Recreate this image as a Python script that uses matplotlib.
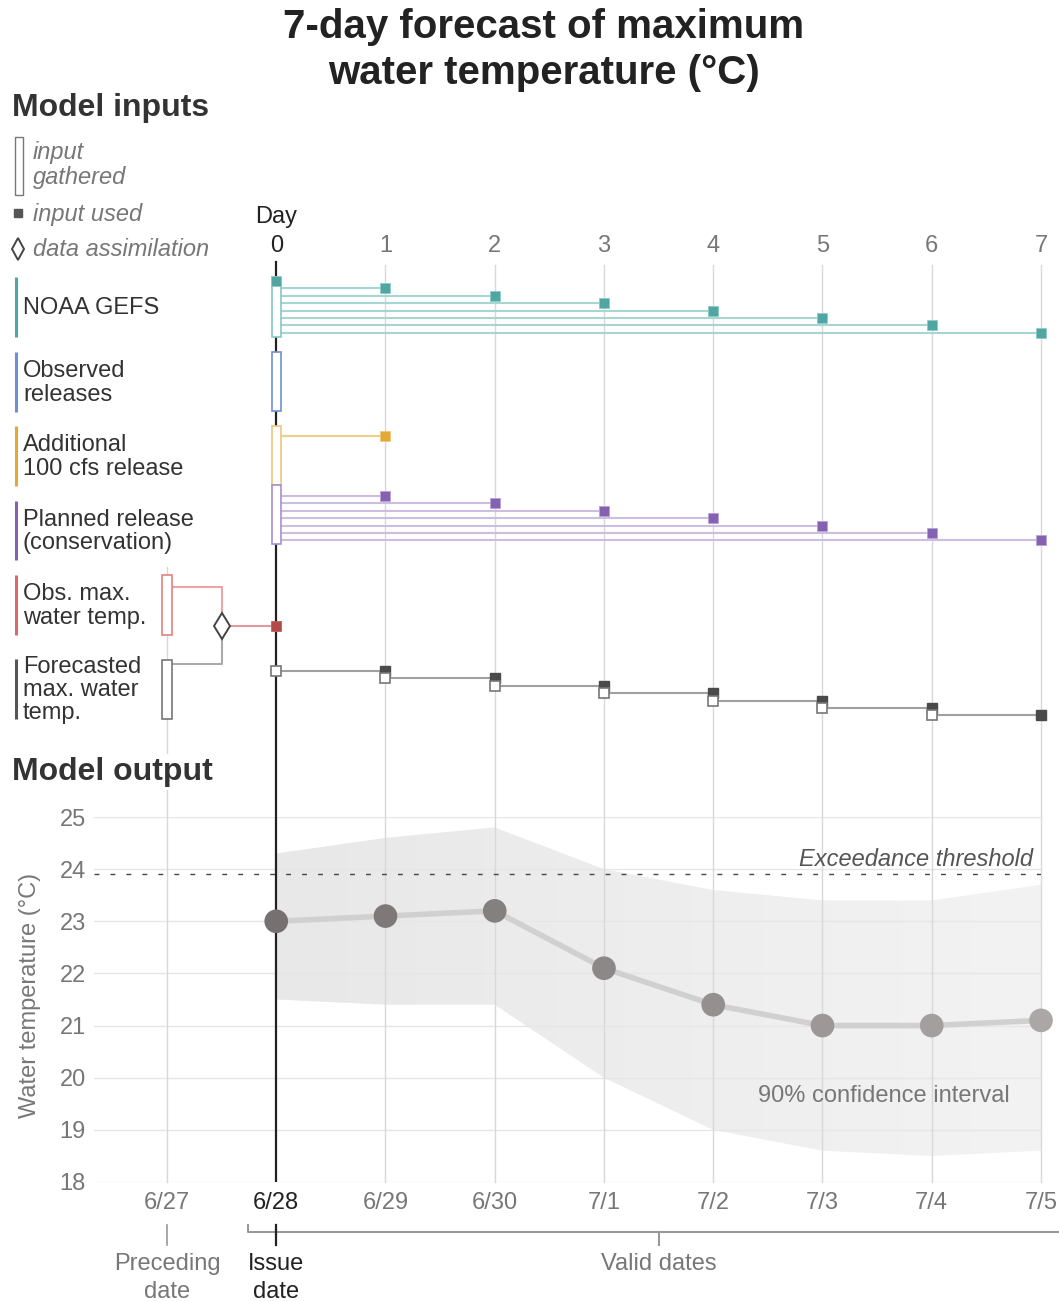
import numpy as np
import matplotlib
matplotlib.use('Agg')
import matplotlib.pyplot as plt
from matplotlib.patches import Rectangle
from matplotlib.colors import LinearSegmentedColormap, to_hex

plt.rcParams['font.family'] = ['Liberation Sans', 'DejaVu Sans']

# forecast grid: day 0 is the issue date, day -1 the preceding date
lead_days = [0, 1, 2, 3, 4, 5, 6, 7]
date_days = [-1, 0, 1, 2, 3, 4, 5, 6, 7]
date_labels = ['6/27', '6/28', '6/29', '6/30', '7/1', '7/2', '7/3', '7/4', '7/5']

# model output, max water temperature (deg C)
forecast_max = [23.0, 23.1, 23.2, 22.1, 21.4, 21.0, 21.0, 21.1]
ci_upper = [24.3, 24.6, 24.8, 24.0, 23.6, 23.4, 23.4, 23.7]
ci_lower = [21.5, 21.4, 21.4, 20.0, 19.0, 18.6, 18.5, 18.6]
exceedance_threshold = 23.9
temp_ticks = [18, 19, 20, 21, 22, 23, 24, 25]

# lead days on which each input is used
gefs_used = [0, 1, 2, 3, 4, 5, 6, 7]
extra_release_used = [1]
planned_used = [1, 2, 3, 4, 5, 6, 7]
fcst_gathered = [0, 1, 2, 3, 4, 5, 6]   # open squares
fcst_used = [1, 2, 3, 4, 5, 6, 7]       # filled squares

# ---- layout (pixels) ----
W, H = 1059, 1302
XL, XR = 94, 1041
DAY_LIM = (-1.668, 7)
BOX = 0.042          # half width of the "input gathered" boxes, in days
STEP = 7.4           # vertical offset between lead-day lines
FS = 17

TEAL, BLUE, ORANGE, PURPLE, RED, DARK = '#4fa6a3', '#6f8fd3', '#e2a935', '#8561b1', '#d96a6a', '#4a4a4a'
GRID = '#d8d8d8'


def frac(x0, y0, x1, y1):
    return [x0 / W, 1 - y1 / H, (x1 - x0) / W, (y1 - y0) / H]


fig = plt.figure(figsize=(W / 100, H / 100), dpi=100)

# pixel overlay for headings, row labels and legend
ax_px = fig.add_axes([0, 0, 1, 1])
ax_px.set_xlim(0, W)
ax_px.set_ylim(H, 0)
ax_px.axis('off')
ax_px.set_zorder(5)

# model inputs panel: x in days, y in rows
ax_in = fig.add_axes(frac(XL, 0, XR, 817))
ax_in.set_xlim(DAY_LIM)
ax_in.set_ylim(817, 0)
ax_in.axis('off')

# model output panel
ax_out = fig.add_axes(frac(XL, 817, XR, 1182))

# date labels and bracket underneath
ax_dt = fig.add_axes(frac(XL, 1182, XR, H))
ax_dt.set_xlim(DAY_LIM)
ax_dt.set_ylim(H, 1182)
ax_dt.axis('off')

# ---- titles ----
fig.text(544 / W, 1 - 50 / H, '7-day forecast of maximum\nwater temperature (°C)',
         ha='center', va='center', fontsize=29, fontweight='bold', color='#222222',
         linespacing=1.3)
ax_px.text(12, 108, 'Model inputs', ha='left', va='center', fontsize=23,
           fontweight='bold', color='#333333')
ax_px.text(12, 772, 'Model output', ha='left', va='center', fontsize=23,
           fontweight='bold', color='#333333',
           bbox=dict(facecolor='white', edgecolor='none', pad=2))

# ---- legend ----
ax_px.add_patch(Rectangle((15, 137), 8, 58, facecolor='white', edgecolor='#777777', lw=1))
ax_px.text(33, 165, 'input\ngathered', ha='left', va='center', fontsize=FS,
           style='italic', color='#777777', linespacing=1.07)
ax_px.plot(18, 213, 's', ms=5.5, color='#555555')
ax_px.text(33, 214, 'input used', ha='left', va='center', fontsize=FS,
           style='italic', color='#777777')
ax_px.plot(18, 249, 'd', ms=11, mfc='white', mec='#444444', mew=1.4)
ax_px.text(33, 250, 'data assimilation', ha='left', va='center', fontsize=FS,
           style='italic', color='#777777')

# ---- row labels with coloured bars ----
row_labels = [
    ('NOAA GEFS', TEAL, 277, 337),
    ('Observed\nreleases', BLUE, 352, 412),
    ('Additional\n100 cfs release', ORANGE, 426, 486),
    ('Planned release\n(conservation)', PURPLE, 501, 560),
    ('Obs. max.\nwater temp.', RED, 575, 635),
    ('Forecasted\nmax. water\ntemp.', '#555555', 659, 719),
]
for text, color, y0, y1 in row_labels:
    ax_px.plot([16, 16], [y0, y1], color=color, lw=2.2, solid_capstyle='butt')
    ax_px.text(23, (y0 + y1) / 2 + 1, text, ha='left', va='center', fontsize=FS,
               color='#333333', linespacing=1.07)

# ---- day axis of the inputs panel ----
ax_in.text(0, 217, 'Day', ha='center', va='center', fontsize=FS, color='#222222')
for d in lead_days:
    ax_in.text(d, 246, str(d), ha='center', va='center', fontsize=FS,
               color='#222222' if d == 0 else '#777777', clip_on=False)
    if d > 0:
        ax_in.plot([d, d], [265, 817], color=GRID, lw=1, zorder=0, clip_on=False)
ax_in.plot([-1, -1], [567, 817], color=GRID, lw=1, zorder=0)
ax_in.plot([0, 0], [262, 817], color='#222222', lw=1.6, zorder=1)


def gathered_box(ax, day, y0, y1, color):
    ax.add_patch(Rectangle((day - BOX, y0), 2 * BOX, y1 - y0, facecolor='white',
                           edgecolor=color, lw=1.2, zorder=3))


def used_square(ax, day, y, **kw):
    ax.plot(day, y, 's', ms=7, clip_on=False, **kw)


# NOAA GEFS
gathered_box(ax_in, 0, 278, 337, '#86c7c2')
for d in gefs_used:
    y = 281 + STEP * d
    if d > 0:
        ax_in.plot([BOX, d], [y, y], color='#a7d5d1', lw=1.5, zorder=2)
    used_square(ax_in, d, y, color=TEAL, mec='#8fcbc6', mew=0.6, zorder=4)

# Observed releases
gathered_box(ax_in, 0, 352, 411, BLUE)

# Additional 100 cfs release
gathered_box(ax_in, 0, 426, 485, '#ecc77a')
for d in extra_release_used:
    ax_in.plot([BOX, d], [436, 436], color='#f0cf88', lw=1.5, zorder=2)
    used_square(ax_in, d, 436, color=ORANGE, mec='#efc97a', mew=0.6, zorder=4)

# Planned release
gathered_box(ax_in, 0, 485, 544, '#a88fcf')
for d in planned_used:
    y = 488.6 + STEP * d
    ax_in.plot([BOX, d], [y, y], color='#cdbde0', lw=1.5, zorder=2)
    used_square(ax_in, d, y, color=PURPLE, mec='#b7a2d4', mew=0.6, zorder=4)

# Observed / forecasted temperature merged by data assimilation
x_da = -0.494
gathered_box(ax_in, -1, 575, 635, '#e48080')
gathered_box(ax_in, -1, 660, 719, '#777777')
ax_in.plot([-1 + BOX, x_da, x_da], [587, 587, 618], color='#eba5a5', lw=1.5, zorder=2)
ax_in.plot([-1 + BOX, x_da, x_da], [664, 664, 634], color='#aaaaaa', lw=1.5, zorder=2)
ax_in.plot([x_da, 0], [626, 626], color='#e09a9a', lw=1.5, zorder=2)
ax_in.plot(x_da, 626, 'd', ms=13, mfc='white', mec='#444444', mew=1.4, zorder=4)
used_square(ax_in, 0, 626, color='#b24a4a', mec='#c06060', mew=0.6, zorder=4)

# Forecasted max water temp rolled forward day to day
for d in fcst_used:
    used_square(ax_in, d, 671 + STEP * (d - 1), color=DARK, zorder=4)
for d in fcst_gathered:
    y = 671 + STEP * d
    ax_in.plot([d, d + 1], [y, y], color='#a0a0a0', lw=1.5, zorder=2)
    used_square(ax_in, d, y, mfc='white', mec='#777777', mew=1.2, zorder=5)

# ---- model output ----
ax_out.set_xlim(DAY_LIM)
ax_out.set_ylim(18, 25)
for s in ax_out.spines.values():
    s.set_visible(False)
ax_out.set_xticks([])
ax_out.set_yticks(temp_ticks)
ax_out.tick_params(axis='y', length=0, pad=6, labelsize=FS, labelcolor='#777777')
for t in temp_ticks:
    ax_out.axhline(t, color='#e6e6e6', lw=1, zorder=2)
for d in date_days:
    if d != 0:
        ax_out.axvline(d, color=GRID, lw=1, zorder=2, clip_on=False)
ax_out.axvline(0, color='#222222', lw=1.6, zorder=3)

# confidence band, shaded lighter with lead time
band = ax_out.fill_between(lead_days, ci_lower, ci_upper, color='none', lw=0)
ci_cmap = LinearSegmentedColormap.from_list('ci', ['#e8e8e8', '#f3f3f3'])
grad = ax_out.imshow(np.linspace(0, 1, 256).reshape(1, -1), extent=[0, 7, 18, 25],
                     aspect='auto', cmap=ci_cmap, zorder=1, interpolation='bicubic')
grad.set_clip_path(band.get_paths()[0], transform=ax_out.transData)
ax_out.set_xlim(DAY_LIM)
ax_out.set_ylim(18, 25)

ax_out.hlines(exceedance_threshold, DAY_LIM[0], 7, colors='#444444', lw=1,
              linestyles=(0, (3.5, 8)), zorder=3)
ax_out.text(6.93, 24.19, 'Exceedance threshold', ha='right', va='center', fontsize=FS,
            style='italic', color='#555555', zorder=4)
ax_out.text(5.56, 19.64, '90% confidence interval', ha='center', va='center',
            fontsize=FS, color='#777777', zorder=4)

ax_out.plot(lead_days, forecast_max, color='#d0d0d0', lw=4, zorder=4,
            solid_capstyle='round')
dot_cmap = LinearSegmentedColormap.from_list('dots', ['#767070', '#aca7a7'])
dot_colors = [to_hex(dot_cmap(i / (len(lead_days) - 1))) for i in range(len(lead_days))]
ax_out.scatter(lead_days, forecast_max, s=290, c=dot_colors, zorder=5,
               linewidths=0, clip_on=False)

fig.text(30 / W, 1 - 995 / H, 'Water temperature (°C)', rotation=90, ha='center',
         va='center', fontsize=FS, color='#777777')

# ---- dates and bracket ----
for d, lab in zip(date_days, date_labels):
    ax_dt.text(d, 1203, lab, ha='center', va='center', fontsize=FS,
               color='#222222' if d == 0 else '#777777', clip_on=False)
ax_dt.plot([-0.26, -0.26, 7.17], [1225, 1232, 1232], color='#999999', lw=1.5,
           clip_on=False)
ax_dt.plot([3.5, 3.5], [1232, 1245], color='#999999', lw=1.5)
ax_dt.plot([-1, -1], [1225, 1245], color='#999999', lw=1.2)
ax_dt.plot([0, 0], [1225, 1245], color='#222222', lw=1.6)
ax_dt.text(-1, 1278, 'Preceding\ndate', ha='center', va='center', fontsize=FS,
           color='#777777', linespacing=1.3)
ax_dt.text(0, 1278, 'Issue\ndate', ha='center', va='center', fontsize=FS,
           color='#222222', linespacing=1.3)
ax_dt.text(3.5, 1264, 'Valid dates', ha='center', va='center', fontsize=FS,
           color='#777777')

fig.savefig('out.png', dpi=100)
